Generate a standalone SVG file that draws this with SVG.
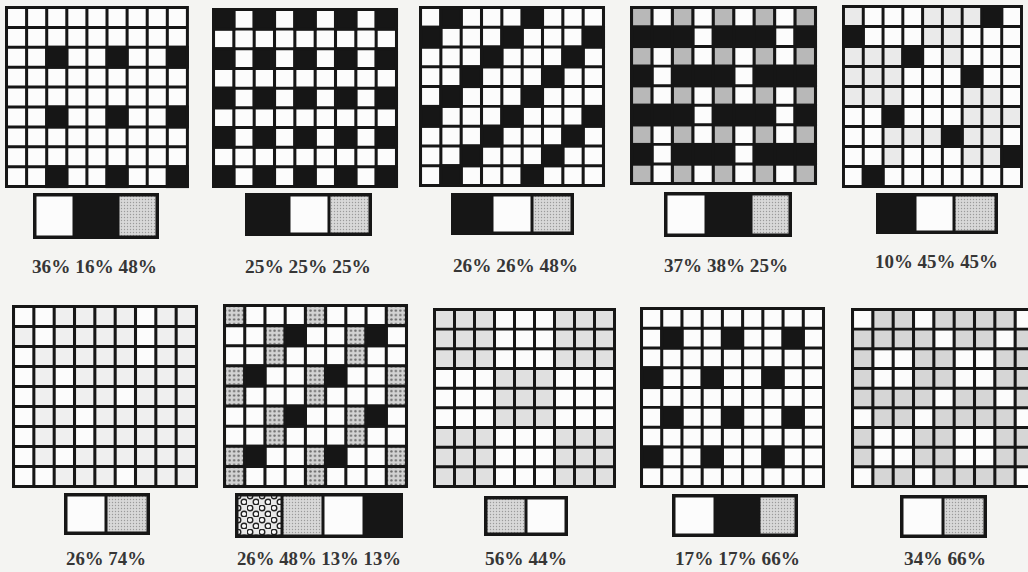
<svg xmlns="http://www.w3.org/2000/svg" xmlns:xlink="http://www.w3.org/1999/xlink" width="1028" height="572" viewBox="0 0 1028 572">
<style>
.k{fill:#161616}
.g{fill:#b8b8b8}
.l{fill:#eaeaea}
.m{fill:#d6d6d6}
.n{fill:#e0e0e0}
.d{fill:url(#dotc)}
.w{fill:#fcfcfc}
.bx{fill:none;stroke:#161616;stroke-width:3.5}
.dv{stroke:#161616;stroke-width:3}
.t{font-family:"Liberation Serif","Times New Roman",serif;font-weight:bold;font-size:19px;fill:#363636}
</style>
<defs>
<path id="L" d="M.075 0V9.15M1.075 0V9.15M2.075 0V9.15M3.075 0V9.15M4.075 0V9.15M5.075 0V9.15M6.075 0V9.15M7.075 0V9.15M8.075 0V9.15M9.075 0V9.15M0 .075H9.15M0 1.075H9.15M0 2.075H9.15M0 3.075H9.15M0 4.075H9.15M0 5.075H9.15M0 6.075H9.15M0 7.075H9.15M0 8.075H9.15M0 9.075H9.15" fill="none" stroke="#161616" stroke-width=".15"/>
<rect id="c" width="1.15" height="1.15"/>
<pattern id="dotc" patternUnits="userSpaceOnUse" width=".22" height=".22"><rect width=".22" height=".22" fill="#d2d2d2"/><circle cx=".11" cy=".11" r=".06" fill="#6a6a6a"/></pattern>
<pattern id="ht" patternUnits="userSpaceOnUse" width="3" height="3"><rect width="3" height="3" fill="#d8d8d8"/><circle cx="1.5" cy="1.5" r=".7" fill="#9a9a9a"/></pattern>
<pattern id="big" patternUnits="userSpaceOnUse" width="12" height="12" x="235" y="493"><rect width="12" height="12" fill="#e8e8e8"/><circle cx="3" cy="3" r="2.8" fill="#fafafa" stroke="#222" stroke-width="1.4"/><circle cx="9" cy="9" r="2.8" fill="#fafafa" stroke="#222" stroke-width="1.4"/></pattern>
</defs>
<rect width="1028" height="572" fill="#f4f4f2"/>

<g id="grid1" transform="translate(5,6) scale(20.1,19.9)">
<rect class="w" width="9.15" height="9.15"/>
<use href="#c" class="k" x="2" y="2"/><use href="#c" class="k" x="5" y="2"/><use href="#c" class="k" x="8" y="2"/>
<use href="#c" class="k" x="2" y="5"/><use href="#c" class="k" x="5" y="5"/><use href="#c" class="k" x="8" y="5"/>
<use href="#c" class="k" x="2" y="8"/><use href="#c" class="k" x="5" y="8"/><use href="#c" class="k" x="8" y="8"/>
<use href="#L"/>
</g>

<g id="grid2" transform="translate(212,8) scale(20.33,19.67)">
<rect class="w" width="9.15" height="9.15"/>
<use href="#c" class="k" x="0" y="0"/><use href="#c" class="k" x="2" y="0"/><use href="#c" class="k" x="4" y="0"/><use href="#c" class="k" x="6" y="0"/><use href="#c" class="k" x="8" y="0"/>
<use href="#c" class="k" x="0" y="2"/><use href="#c" class="k" x="2" y="2"/><use href="#c" class="k" x="4" y="2"/><use href="#c" class="k" x="6" y="2"/><use href="#c" class="k" x="8" y="2"/>
<use href="#c" class="k" x="0" y="4"/><use href="#c" class="k" x="2" y="4"/><use href="#c" class="k" x="4" y="4"/><use href="#c" class="k" x="6" y="4"/><use href="#c" class="k" x="8" y="4"/>
<use href="#c" class="k" x="0" y="6"/><use href="#c" class="k" x="2" y="6"/><use href="#c" class="k" x="4" y="6"/><use href="#c" class="k" x="6" y="6"/><use href="#c" class="k" x="8" y="6"/>
<use href="#c" class="k" x="0" y="8"/><use href="#c" class="k" x="2" y="8"/><use href="#c" class="k" x="4" y="8"/><use href="#c" class="k" x="6" y="8"/><use href="#c" class="k" x="8" y="8"/>
<use href="#L"/>
</g>

<g id="grid3" transform="translate(419,6) scale(20.33,19.78)">
<rect class="w" width="9.15" height="9.15"/>
<use href="#c" class="k" x="1" y="0"/><use href="#c" class="k" x="5" y="0"/>
<use href="#c" class="k" x="0" y="1"/><use href="#c" class="k" x="4" y="1"/><use href="#c" class="k" x="8" y="1"/>
<use href="#c" class="k" x="3" y="2"/><use href="#c" class="k" x="7" y="2"/>
<use href="#c" class="k" x="2" y="3"/><use href="#c" class="k" x="6" y="3"/>
<use href="#c" class="k" x="1" y="4"/><use href="#c" class="k" x="5" y="4"/>
<use href="#c" class="k" x="0" y="5"/><use href="#c" class="k" x="4" y="5"/><use href="#c" class="k" x="8" y="5"/>
<use href="#c" class="k" x="3" y="6"/><use href="#c" class="k" x="7" y="6"/>
<use href="#c" class="k" x="2" y="7"/><use href="#c" class="k" x="6" y="7"/>
<use href="#c" class="k" x="1" y="8"/><use href="#c" class="k" x="5" y="8"/>
<use href="#L"/>
</g>

<g id="grid4" transform="translate(630,6) scale(20.44,19.56)">
<rect class="w" width="9.15" height="9.15"/>
<use href="#c" class="g" x="0" y="0"/><use href="#c" class="g" x="2" y="0"/><use href="#c" class="g" x="4" y="0"/><use href="#c" class="g" x="6" y="0"/><use href="#c" class="g" x="8" y="0"/>
<use href="#c" class="g" x="0" y="2"/><use href="#c" class="g" x="2" y="2"/><use href="#c" class="g" x="4" y="2"/><use href="#c" class="g" x="6" y="2"/><use href="#c" class="g" x="8" y="2"/>
<use href="#c" class="g" x="0" y="4"/><use href="#c" class="g" x="2" y="4"/><use href="#c" class="g" x="4" y="4"/><use href="#c" class="g" x="6" y="4"/><use href="#c" class="g" x="8" y="4"/>
<use href="#c" class="g" x="0" y="6"/><use href="#c" class="g" x="2" y="6"/><use href="#c" class="g" x="4" y="6"/><use href="#c" class="g" x="6" y="6"/><use href="#c" class="g" x="8" y="6"/>
<use href="#c" class="g" x="0" y="8"/><use href="#c" class="g" x="2" y="8"/><use href="#c" class="g" x="4" y="8"/><use href="#c" class="g" x="6" y="8"/><use href="#c" class="g" x="8" y="8"/>
<rect class="k" x="0" y="1" width="3.15" height="1.15"/><rect class="k" x="4" y="1" width="3.15" height="1.15"/><rect class="k" x="8" y="1" width="1.15" height="1.15"/>
<rect class="k" x="0" y="3" width="1.15" height="1.15"/><rect class="k" x="2" y="3" width="3.15" height="1.15"/><rect class="k" x="6" y="3" width="3.15" height="1.15"/>
<rect class="k" x="0" y="5" width="3.15" height="1.15"/><rect class="k" x="4" y="5" width="3.15" height="1.15"/><rect class="k" x="8" y="5" width="1.15" height="1.15"/>
<rect class="k" x="0" y="7" width="1.15" height="1.15"/><rect class="k" x="2" y="7" width="3.15" height="1.15"/><rect class="k" x="6" y="7" width="3.15" height="1.15"/>
<use href="#L"/>
</g>

<g id="grid5" transform="translate(842,5) scale(19.78,20)">
<rect class="w" width="9.15" height="9.15"/>
<use href="#c" class="l" x="0" y="0"/><use href="#c" class="l" x="4" y="0"/><use href="#c" class="l" x="5" y="0"/><use href="#c" class="l" x="6" y="0"/>
<use href="#c" class="l" x="4" y="1"/><use href="#c" class="l" x="5" y="1"/>
<use href="#c" class="l" x="0" y="2"/><use href="#c" class="l" x="1" y="2"/><use href="#c" class="l" x="2" y="2"/><use href="#c" class="l" x="5" y="2"/>
<use href="#c" class="l" x="0" y="3"/><use href="#c" class="l" x="1" y="3"/><use href="#c" class="l" x="2" y="3"/>
<use href="#c" class="l" x="0" y="4"/><use href="#c" class="l" x="1" y="4"/><use href="#c" class="l" x="2" y="4"/><use href="#c" class="l" x="6" y="4"/><use href="#c" class="l" x="7" y="4"/>
<use href="#c" class="l" x="6" y="5"/><use href="#c" class="l" x="7" y="5"/><use href="#c" class="l" x="8" y="5"/>
<use href="#c" class="l" x="2" y="6"/><use href="#c" class="l" x="3" y="6"/><use href="#c" class="l" x="4" y="6"/><use href="#c" class="l" x="6" y="6"/><use href="#c" class="l" x="7" y="6"/>
<use href="#c" class="l" x="2" y="7"/><use href="#c" class="l" x="6" y="7"/><use href="#c" class="l" x="7" y="7"/>
<use href="#c" class="k" x="7" y="0"/><use href="#c" class="k" x="0" y="1"/><use href="#c" class="k" x="3" y="2"/><use href="#c" class="k" x="6" y="3"/>
<use href="#c" class="k" x="2" y="5"/><use href="#c" class="k" x="5" y="6"/><use href="#c" class="k" x="8" y="7"/><use href="#c" class="k" x="1" y="8"/>
<use href="#L"/>
</g>

<g id="grid6" transform="translate(12,305) scale(20.33,20)">
<rect width="9.15" height="9.15" fill="#efefef"/>
<use href="#c" class="w" x="0" y="0"/><use href="#c" class="w" x="1" y="0"/><use href="#c" class="w" x="6" y="0"/>
<use href="#c" class="w" x="1" y="1"/><use href="#c" class="w" x="6" y="1"/>
<use href="#c" class="w" x="0" y="2"/><use href="#c" class="w" x="6" y="2"/>
<use href="#c" class="w" x="0" y="3"/><use href="#c" class="w" x="2" y="3"/>
<use href="#c" class="w" x="0" y="4"/><use href="#c" class="w" x="2" y="4"/><use href="#c" class="w" x="5" y="4"/>
<use href="#c" class="w" x="0" y="5"/><use href="#c" class="w" x="3" y="5"/>
<use href="#c" class="w" x="0" y="6"/><use href="#c" class="w" x="3" y="6"/>
<use href="#c" class="w" x="0" y="7"/><use href="#c" class="w" x="2" y="7"/>
<use href="#c" class="w" x="0" y="8"/><use href="#c" class="w" x="5" y="8"/><use href="#c" class="w" x="1" y="8"/>
<use href="#L"/>
</g>

<g id="grid7" transform="translate(223,304) scale(20.22,20.11)">
<rect class="w" width="9.15" height="9.15"/>
<use href="#c" class="d" x="0" y="0"/><use href="#c" class="d" x="4" y="0"/><use href="#c" class="d" x="8" y="0"/>
<use href="#c" class="d" x="2" y="1"/><use href="#c" class="d" x="6" y="1"/>
<use href="#c" class="d" x="2" y="2"/><use href="#c" class="d" x="6" y="2"/>
<use href="#c" class="d" x="0" y="3"/><use href="#c" class="d" x="4" y="3"/><use href="#c" class="d" x="8" y="3"/>
<use href="#c" class="d" x="0" y="4"/><use href="#c" class="d" x="4" y="4"/><use href="#c" class="d" x="8" y="4"/>
<use href="#c" class="d" x="2" y="5"/><use href="#c" class="d" x="6" y="5"/>
<use href="#c" class="d" x="2" y="6"/><use href="#c" class="d" x="6" y="6"/>
<use href="#c" class="d" x="0" y="7"/><use href="#c" class="d" x="4" y="7"/><use href="#c" class="d" x="8" y="7"/>
<use href="#c" class="d" x="0" y="8"/><use href="#c" class="d" x="4" y="8"/><use href="#c" class="d" x="8" y="8"/>
<use href="#c" class="k" x="3" y="1"/><use href="#c" class="k" x="7" y="1"/>
<use href="#c" class="k" x="1" y="3"/><use href="#c" class="k" x="5" y="3"/>
<use href="#c" class="k" x="3" y="5"/><use href="#c" class="k" x="7" y="5"/>
<use href="#c" class="k" x="1" y="7"/><use href="#c" class="k" x="5" y="7"/>
<use href="#L"/>
</g>

<g id="grid8" transform="translate(433,308) scale(20,19.67)">
<rect class="w" width="9.15" height="9.15"/>
<rect class="n" x="0" y="0" width="3.15" height="3.15"/><rect class="n" x="6" y="0" width="3.15" height="3.15"/>
<rect class="n" x="3" y="3" width="3.15" height="3.15"/>
<rect class="n" x="0" y="6" width="3.15" height="3.15"/><rect class="n" x="6" y="6" width="3.15" height="3.15"/>
<use href="#L"/>
</g>

<g id="grid9" transform="translate(640,307) scale(20.22,19.78)">
<rect class="w" width="9.15" height="9.15"/>
<use href="#c" class="k" x="1" y="1"/><use href="#c" class="k" x="4" y="1"/><use href="#c" class="k" x="7" y="1"/>
<use href="#c" class="k" x="0" y="3"/><use href="#c" class="k" x="3" y="3"/><use href="#c" class="k" x="6" y="3"/>
<use href="#c" class="k" x="1" y="5"/><use href="#c" class="k" x="4" y="5"/><use href="#c" class="k" x="7" y="5"/>
<use href="#c" class="k" x="0" y="7"/><use href="#c" class="k" x="3" y="7"/><use href="#c" class="k" x="6" y="7"/>
<use href="#L"/>
</g>

<g id="grid10" transform="translate(851,308) scale(20.33,19.67)">
<rect class="w" width="9.15" height="9.15"/>
<use href="#c" class="m" x="1" y="0"/><use href="#c" class="m" x="2" y="0"/><use href="#c" class="m" x="4" y="0"/><use href="#c" class="m" x="5" y="0"/><use href="#c" class="m" x="6" y="0"/><use href="#c" class="m" x="7" y="0"/>
<use href="#c" class="m" x="0" y="1"/><use href="#c" class="m" x="1" y="1"/><use href="#c" class="m" x="2" y="1"/><use href="#c" class="m" x="3" y="1"/><use href="#c" class="m" x="5" y="1"/><use href="#c" class="m" x="6" y="1"/><use href="#c" class="m" x="8" y="1"/>
<use href="#c" class="m" x="0" y="2"/><use href="#c" class="m" x="3" y="2"/><use href="#c" class="m" x="4" y="2"/><use href="#c" class="m" x="7" y="2"/><use href="#c" class="m" x="8" y="2"/>
<use href="#c" class="m" x="0" y="3"/><use href="#c" class="m" x="3" y="3"/><use href="#c" class="m" x="4" y="3"/><use href="#c" class="m" x="7" y="3"/><use href="#c" class="m" x="8" y="3"/>
<use href="#c" class="m" x="0" y="4"/><use href="#c" class="m" x="1" y="4"/><use href="#c" class="m" x="2" y="4"/><use href="#c" class="m" x="3" y="4"/><use href="#c" class="m" x="5" y="4"/><use href="#c" class="m" x="6" y="4"/><use href="#c" class="m" x="8" y="4"/>
<use href="#c" class="m" x="1" y="5"/><use href="#c" class="m" x="2" y="5"/><use href="#c" class="m" x="4" y="5"/><use href="#c" class="m" x="5" y="5"/><use href="#c" class="m" x="6" y="5"/><use href="#c" class="m" x="7" y="5"/>
<use href="#c" class="m" x="0" y="6"/><use href="#c" class="m" x="3" y="6"/><use href="#c" class="m" x="4" y="6"/><use href="#c" class="m" x="7" y="6"/><use href="#c" class="m" x="8" y="6"/>
<use href="#c" class="m" x="0" y="7"/><use href="#c" class="m" x="3" y="7"/><use href="#c" class="m" x="4" y="7"/><use href="#c" class="m" x="7" y="7"/><use href="#c" class="m" x="8" y="7"/>
<use href="#c" class="m" x="1" y="8"/><use href="#c" class="m" x="2" y="8"/><use href="#c" class="m" x="4" y="8"/><use href="#c" class="m" x="5" y="8"/><use href="#c" class="m" x="6" y="8"/><use href="#c" class="m" x="7" y="8"/>
<use href="#L"/>
</g>

<g id="legend1">
<rect class="w" x="33" y="193" width="41" height="46"/><rect class="k" x="74" y="193" width="44" height="46"/><rect x="118" y="193" width="41" height="46" fill="url(#ht)"/>
<path class="dv" d="M74 193V239M118 193V239"/><rect class="bx" x="34.75" y="194.75" width="122.5" height="42.5"/>
</g>
<g id="legend2">
<rect class="k" x="245" y="193" width="44" height="43"/><rect class="w" x="289" y="193" width="40" height="43"/><rect x="329" y="193" width="43" height="43" fill="url(#ht)"/>
<path class="dv" d="M289 193V236M329 193V236"/><rect class="bx" x="246.75" y="194.75" width="123.5" height="39.5"/>
</g>
<g id="legend3">
<rect class="k" x="451" y="193" width="41" height="42"/><rect class="w" x="492" y="193" width="40" height="42"/><rect x="532" y="193" width="42" height="42" fill="url(#ht)"/>
<path class="dv" d="M492 193V235M532 193V235"/><rect class="bx" x="452.75" y="194.75" width="119.5" height="38.5"/>
</g>
<g id="legend4">
<rect class="w" x="664" y="192" width="42" height="45"/><rect class="k" x="706" y="192" width="45" height="45"/><rect x="751" y="192" width="41" height="45" fill="url(#ht)"/>
<path class="dv" d="M706 192V237M751 192V237"/><rect class="bx" x="665.75" y="193.75" width="124.5" height="41.5"/>
</g>
<g id="legend5">
<rect class="k" x="876" y="193" width="39" height="41"/><rect class="w" x="915" y="193" width="39" height="41"/><rect x="954" y="193" width="44" height="41" fill="url(#ht)"/>
<path class="dv" d="M915 193V234M954 193V234"/><rect class="bx" x="877.75" y="194.75" width="118.5" height="37.5"/>
</g>
<g id="legend6">
<rect class="w" x="64" y="493" width="42" height="42"/><rect x="106" y="493" width="44" height="42" fill="url(#ht)"/>
<path class="dv" d="M106 493V535"/><rect class="bx" x="65.75" y="494.75" width="82.5" height="38.5"/>
</g>
<g id="legend7">
<rect x="235" y="493" width="47" height="45" fill="url(#big)"/><rect x="282" y="493" width="41" height="45" fill="url(#ht)"/><rect class="w" x="323" y="493" width="41" height="45"/><rect class="k" x="364" y="493" width="39" height="45"/>
<path class="dv" d="M282 493V538M323 493V538M364 493V538"/><rect class="bx" x="236.75" y="494.75" width="164.5" height="41.5"/>
</g>
<g id="legend8">
<rect x="484" y="496" width="42" height="40" fill="url(#ht)"/><rect class="w" x="526" y="496" width="42" height="40"/>
<path class="dv" d="M526 496V536"/><rect class="bx" x="485.75" y="497.75" width="80.5" height="36.5"/>
</g>
<g id="legend9">
<rect class="w" x="672" y="494" width="43" height="43"/><rect class="k" x="715" y="494" width="44" height="43"/><rect x="759" y="494" width="39" height="43" fill="url(#ht)"/>
<path class="dv" d="M715 494V537M759 494V537"/><rect class="bx" x="673.75" y="495.75" width="122.5" height="39.5"/>
</g>
<g id="legend10">
<rect class="w" x="900" y="495" width="43" height="43"/><rect x="943" y="495" width="44" height="43" fill="url(#ht)"/>
<path class="dv" d="M943 495V538"/><rect class="bx" x="901.75" y="496.75" width="83.5" height="39.5"/>
</g>

<g id="labels">
<text class="t" x="32" y="273" textLength="125" lengthAdjust="spacingAndGlyphs">36% 16% 48%</text>
<text class="t" x="245" y="273" textLength="126" lengthAdjust="spacingAndGlyphs">25% 25% 25%</text>
<text class="t" x="453" y="272" textLength="125" lengthAdjust="spacingAndGlyphs">26% 26% 48%</text>
<text class="t" x="664" y="272" textLength="124" lengthAdjust="spacingAndGlyphs">37% 38% 25%</text>
<text class="t" x="875" y="268" textLength="123" lengthAdjust="spacingAndGlyphs">10% 45% 45%</text>
<text class="t" x="66" y="565" textLength="80" lengthAdjust="spacingAndGlyphs">26% 74%</text>
<text class="t" x="237" y="565" textLength="164" lengthAdjust="spacingAndGlyphs">26% 48% 13% 13%</text>
<text class="t" x="485" y="565" textLength="82" lengthAdjust="spacingAndGlyphs">56% 44%</text>
<text class="t" x="675" y="565" textLength="125" lengthAdjust="spacingAndGlyphs">17% 17% 66%</text>
<text class="t" x="904" y="565" textLength="82" lengthAdjust="spacingAndGlyphs">34% 66%</text>
</g>
</svg>
